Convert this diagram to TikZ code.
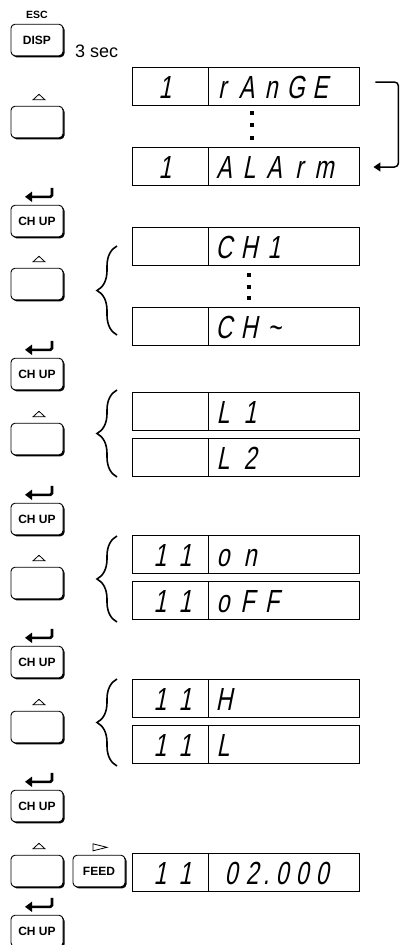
\documentclass[tikz,border=0pt]{standalone}
\usepackage{fontspec}
\setmainfont{Liberation Sans}
\newfontfamily\segfont{Liberation Sans}[FakeStretch=0.72,FakeSlant=0.2]
\usetikzlibrary{arrows.meta,decorations.pathreplacing,shadows,calc}
\tikzset{
  key/.style={draw, line width=0.9pt, rounded corners=4pt, fill=white,
    minimum width=52pt, minimum height=31.5pt, inner sep=0pt,
    font=\bfseries\fontsize{12}{12}\selectfont,
    drop shadow={shadow xshift=1.5pt, shadow yshift=-1.5pt, opacity=1, fill=black}},
  cell/.style={draw, line width=0.9pt, minimum height=38pt, inner sep=0pt},
  lcell/.style={cell, minimum width=76pt},
  rcell/.style={cell, minimum width=151pt},
  seg/.style={font=\segfont\fontsize{32}{32}\selectfont, anchor=base, inner sep=0pt},
  keytri/.style={draw, line width=0.8pt, line join=miter},
  retarrow/.style={line width=2.6pt, rounded corners=1.5pt, -{Triangle[length=7pt,width=10pt]}},
  bracestyle/.style={decorate, decoration={brace, amplitude=20pt, aspect=0.5}, line width=1.6pt},
  vdot/.style={fill=black, minimum size=4pt, inner sep=0pt},
}
\newcommand\segs[5]{%
  \foreach \c [count=\i] in {#5} {\node[seg] (#1\i) at ({#2+#3*(\i-1)},#4) {\c};}}
\begin{document}
\begin{tikzpicture}[x=1pt,y=-1pt]
\useasboundingbox (0,0) rectangle (401,945);
% keys
\node[font=\bfseries\fontsize{10.5}{10.5}\selectfont] (esc) at (37,15) {ESC};
\node[key] (disp) at (37,40) {DISP};
\node[anchor=base west, font=\fontsize{18}{18}\selectfont, inner sep=0pt] (sec) at (75,57) {3 sec};
\foreach \n/\y in {1/122,2/284,3/439,4/583,5/727,6/871}{
  \node[key] (up\n) at (37,\y) {};
  \draw[keytri] ($(up\n.north)+(-4,-6)$) -- ($(up\n.north)+(2,-11.5)$) -- ($(up\n.north)+(8,-6)$) -- cycle;
}
\foreach \n/\y in {1/221,2/374,3/519,4/662,5/806,6/931}{
  \node[key] (ch\n) at (37,\y) {CH UP};
  \draw[retarrow] ($(ch\n.north)+(15,-17)$) |- ($(ch\n.north)+(-12,-8)$);
}
\node[key] (feed) at (99,871) {FEED};
\draw[keytri] ($(feed.north)+(-6,-11)$) -- ($(feed.north)+(8,-7.5)$) -- ($(feed.north)+(-6,-4)$) -- cycle;
% displays
\foreach \n/\y in {1/86.5,2/166,3/246.5,4/326,5/411,6/457,7/554.5,8/600.5,9/698.5,10/744,11/872.5}{
  \node[lcell] (l\n) at (170,\y) {};
  \node[rcell] (r\n) at (283.5,\y) {};
}
% display texts
\segs{ta}{165}{0}{98.5}{1}
\segs{tb}{222}{24.5}{98.5}{r,A,n,G,E}
\segs{tc}{165}{0}{178}{1}
\segs{td}{224}{25}{178}{A,L,A,r,m}
\segs{te}{224}{25}{258.5}{C,H,1}
\segs{tf}{224}{25}{338}{C,H,\textasciitilde}
\segs{tg}{223}{27}{423}{L,1}
\segs{th}{223}{27}{469}{L,2}
\segs{ti}{160}{25}{566.5}{1,1}
\segs{tj}{223}{27}{566.5}{o,n}
\segs{tk}{160}{25}{612.5}{1,1}
\segs{tl}{223}{24.5}{612.5}{o,F,F}
\segs{tm}{160}{25}{710.5}{1,1}
\segs{tn}{224}{25}{710.5}{H}
\segs{to}{160}{25}{756}{1,1}
\segs{tp}{223}{25}{756}{L}
\segs{tq}{160}{25}{884.5}{1,1}
\segs{tr}{231}{21}{884.5}{0,2}
\node[seg] (tdot) at (266,884.5) {.};
\segs{ts}{282}{20}{884.5}{0,0,0}
% dots
\foreach \y [count=\i] in {113,125,137.5} \node[vdot] (da\i) at (252,\y) {};
\foreach \y [count=\i] in {275,286.5,298} \node[vdot] (db\i) at (249,\y) {};
% braces
\draw[bracestyle] (117,335) -- (117,246);
\draw[bracestyle] (117,477) -- (117,390);
\draw[bracestyle] (117,622) -- (117,536);
\draw[bracestyle] (117,766) -- (117,679);
% loop arrow
\draw[line width=1.5pt, rounded corners=4pt, -{Triangle[length=7pt,width=9pt]}]
  ($(r1.east)+(16,-4.5)$) -| ($(r2.east)+(39,1)$) -- ($(r2.east)+(14,1)$);
\end{tikzpicture}
\end{document}
